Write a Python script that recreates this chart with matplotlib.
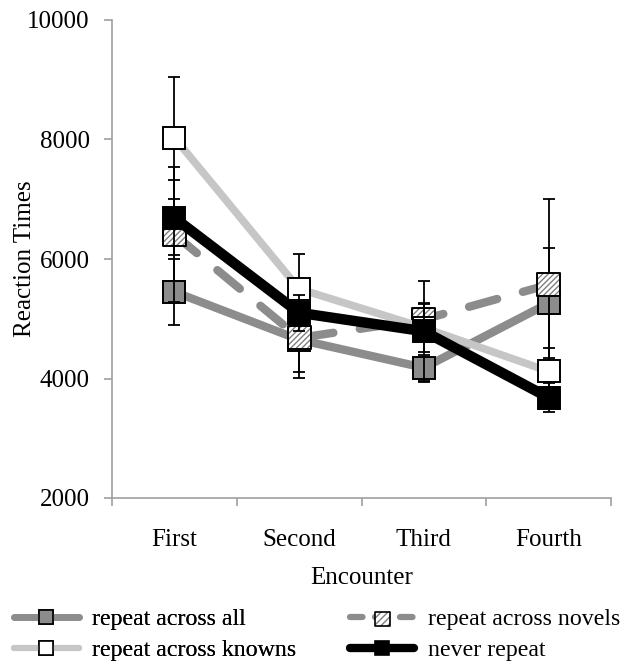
import matplotlib
matplotlib.use("Agg")
import matplotlib.pyplot as plt
from matplotlib.lines import Line2D
from matplotlib.legend_handler import HandlerTuple

plt.rcParams["font.family"] = ["Liberation Serif", "DejaVu Serif"]
plt.rcParams["hatch.linewidth"] = 1.0

# ---------------- data ----------------
categories = ["First", "Second", "Third", "Fourth"]

all_mean = [5450, 4650, 4180, 5260]
all_err = [550, 540, 220, 920]

novels_mean = [6410, 4680, 4990, 5570]
novels_err = [1130, 670, 270, 1430]

knowns_mean = [8030, 5500, 4850, 4120]
knowns_err = [1020, 585, 400, 390]

never_mean = [6690, 5100, 4790, 3680]
never_err = [630, 300, 850, 240]

labels = ["repeat across all", "repeat across novels",
          "repeat across knowns", "never repeat"]
# ---------------------------------------------------------------

GRAY = "#8c8c8c"
LIGHT = "#c6c6c6"
MS = 16.5
LMS = 10.5  # legend marker size

fig = plt.figure(figsize=(6.32, 6.65), dpi=100)
ax = fig.add_axes([112 / 632, 1 - 498 / 665, (611 - 112) / 632, (498 - 20) / 665])

x = list(range(1, len(categories) + 1))

series = [
    (all_mean, all_err, dict(color=GRAY, lw=6, ls="-"), dict(fc=GRAY, hatch=None)),
    (novels_mean, novels_err, dict(color=GRAY, lw=6, ls=(0, (3.5, 3.2))), dict(fc="white", hatch="//////")),
    (knowns_mean, knowns_err, dict(color=LIGHT, lw=5.5, ls="-"), dict(fc="white", hatch=None)),
    (never_mean, never_err, dict(color="black", lw=7.5, ls="-"), dict(fc="black", hatch=None)),
]

handles = []
for i, (m, e, lstyle, mstyle) in enumerate(series):
    z = 3 + i * 3
    ax.errorbar(x, m, yerr=e, fmt="none", ecolor="black", elinewidth=1.3,
                capsize=4, capthick=1.3, zorder=z)
    ax.plot(x, m, color=lstyle["color"], lw=lstyle["lw"], ls=lstyle["ls"],
            solid_capstyle="round", dash_capstyle="round", zorder=z + 1)
    if mstyle["hatch"]:
        ax.scatter(x, m, marker="s", s=MS ** 2, facecolor="white", edgecolor="#808080",
                   linewidths=0, hatch=mstyle["hatch"], zorder=z + 2)
        ax.scatter(x, m, marker="s", s=MS ** 2, facecolor="none", edgecolor="black",
                   linewidths=1.4, zorder=z + 2)
        h_line = Line2D([], [], color=lstyle["color"], lw=4.5, ls=(0, (2.0, 2.0)),
                        dash_capstyle="round")
        h_face = ax.scatter([], [], marker="s", s=LMS ** 2, facecolor="white",
                            edgecolor="#808080", linewidths=0, hatch="/////")
        h_edge = ax.scatter([], [], marker="s", s=LMS ** 2, facecolor="none",
                            edgecolor="black", linewidths=1.2)
        handles.append((h_line, h_face, h_edge))
    else:
        ax.plot(x, m, ls="none", marker="s", ms=MS, mfc=mstyle["fc"], mec="black",
                mew=1.4, zorder=z + 2)
        handles.append(Line2D([], [], color=lstyle["color"], lw=lstyle["lw"] * 0.8,
                              solid_capstyle="round",
                              marker="s", ms=LMS, mfc=mstyle["fc"], mec="black", mew=1.2))

ax.set_xlim(0.5, 4.5)
ax.set_ylim(2000, 10000)
ax.set_yticks([2000, 4000, 6000, 8000, 10000])
ax.set_xticks(x)
ax.set_xticklabels(categories)
ax.set_xticks([0.5, 1.5, 2.5, 3.5, 4.5], minor=True)
ax.tick_params(axis="x", which="major", length=0, pad=22, labelsize=18)
ax.tick_params(axis="x", which="minor", length=6, color="#a0a0a0", width=1.2)
ax.tick_params(axis="y", length=6, color="#a0a0a0", width=1.2, labelsize=18, pad=10)
for s in ["top", "right"]:
    ax.spines[s].set_visible(False)
for s in ["left", "bottom"]:
    ax.spines[s].set_color("#a0a0a0")
    ax.spines[s].set_linewidth(1.2)

ax.set_ylabel("Reaction Times", fontsize=18, labelpad=-6)
ax.set_xlabel("Encounter", fontsize=18, labelpad=12)

# two legend columns, row-wise like the reference
leg_kw = dict(loc="lower left", frameon=False, fontsize=17.2, handlelength=2.7,
              handletextpad=0.55, labelspacing=0.38, borderpad=0, borderaxespad=0,
              handler_map={tuple: HandlerTuple(ndivide=1)})
leg1 = fig.legend([handles[0], handles[2]], [labels[0], labels[2]],
                  bbox_to_anchor=(14 / 632, 4 / 665), **leg_kw)
fig.add_artist(leg1)
fig.legend([handles[1], handles[3]], [labels[1], labels[3]],
           bbox_to_anchor=(350 / 632, 4 / 665), **leg_kw)

fig.savefig("out.png", dpi=100)
